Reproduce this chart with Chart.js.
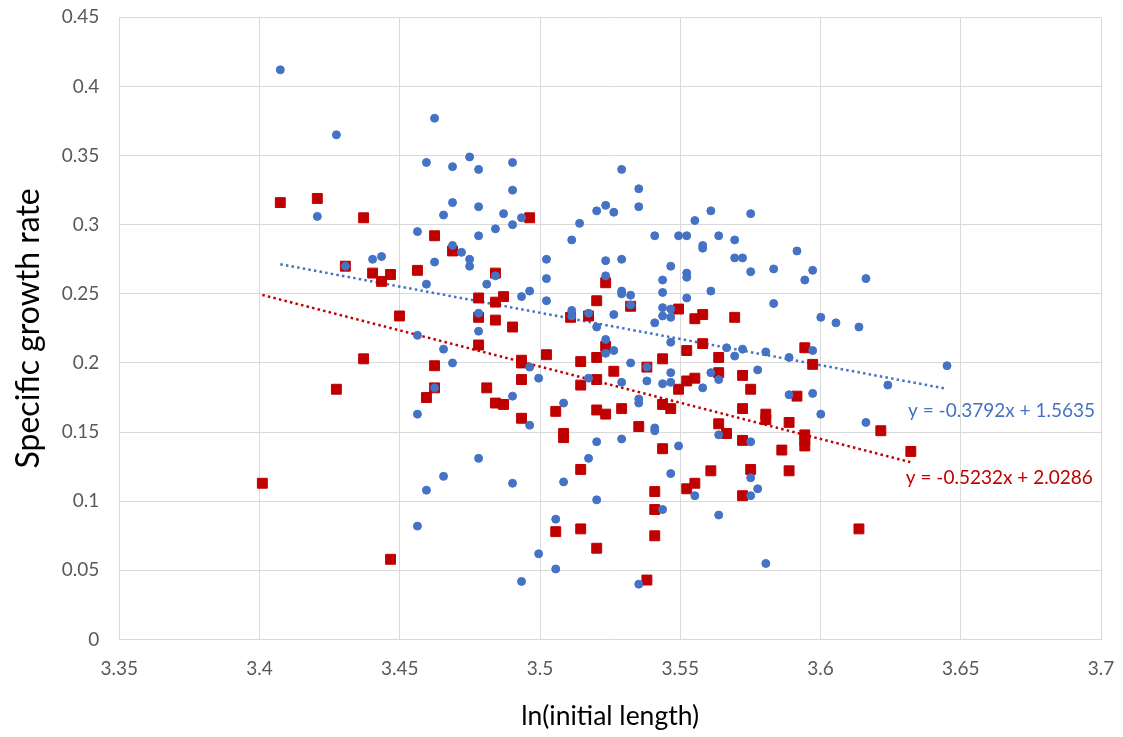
<!DOCTYPE html>
<html>
<head>
<meta charset="utf-8">
<script src="https://cdn.jsdelivr.net/npm/chart.js@4"></script>
<style>
  body { margin: 0; background: #fff; }
</style>
</head>
<body>
<canvas id="growth_chart" width="1123" height="737"></canvas>
<script>
  // series 1 (blue circles)
  const blueX = [
    3.4074, 3.4274, 3.4206, 3.4306, 3.4403, 3.4435, 3.4563, 3.4595, 3.4624, 3.4595,
    3.4563, 3.4656, 3.4688, 3.4688, 3.4688, 3.4720, 3.4749, 3.4781, 3.4781, 3.4749,
    3.4749, 3.4810, 3.4656, 3.4688, 3.4781, 3.4781, 3.4781, 3.4563, 3.4624, 3.4563,
    3.4595, 3.4656, 3.4781, 3.4624, 3.4902, 3.4902, 3.4870, 3.4841, 3.4902, 3.4934,
    3.5023, 3.5023, 3.5023, 3.5113, 3.5141, 3.5202, 3.5234, 3.5263, 3.5291, 3.5352,
    3.5352, 3.5234, 3.5234, 3.5291, 3.5291, 3.5291, 3.5323, 3.5409, 3.5494, 3.5523,
    3.5466, 3.5437, 3.5437, 3.5523, 3.5523, 3.5523, 3.5552, 3.4841, 3.4934, 3.4963,
    3.5113, 3.5113, 3.5173, 3.5263, 3.5202, 3.5323, 3.5409, 3.5437, 3.5466, 3.5437,
    3.5466, 3.5466, 3.5234, 3.5234, 3.5263, 3.5323, 3.5381, 3.5381, 3.5291, 3.5173,
    3.4963, 3.4995, 3.4902, 3.4963, 3.5084, 3.5352, 3.5352, 3.5437, 3.5466, 3.5466,
    3.5409, 3.5409, 3.5202, 3.5291, 3.5173, 3.5494, 3.5466, 3.4902, 3.5084, 3.5202,
    3.5056, 3.4995, 3.5056, 3.4934, 3.5352, 3.5437, 3.5552, 3.5609, 3.5751, 3.5637,
    3.5580, 3.5580, 3.5694, 3.5916, 3.5694, 3.5722, 3.5751, 3.5833, 3.5972, 3.5944,
    3.6162, 3.5609, 3.5833, 3.6001, 3.6055, 3.6137, 3.5665, 3.5722, 3.5805, 3.5972,
    3.5694, 3.5888, 3.6451, 3.6240, 3.5609, 3.5637, 3.5580, 3.5776, 3.5888, 3.5972,
    3.6001, 3.6162, 3.5637, 3.5751, 3.5751, 3.5776, 3.5751, 3.5637, 3.5805
  ];
  const blueY = [
    0.412, 0.365, 0.306, 0.270, 0.275, 0.277, 0.295, 0.345, 0.377, 0.257,
    0.220, 0.307, 0.342, 0.316, 0.285, 0.280, 0.349, 0.340, 0.313, 0.275,
    0.270, 0.257, 0.210, 0.200, 0.292, 0.236, 0.223, 0.163, 0.182, 0.082,
    0.108, 0.118, 0.131, 0.273, 0.345, 0.325, 0.308, 0.297, 0.300, 0.305,
    0.275, 0.261, 0.245, 0.289, 0.301, 0.310, 0.314, 0.309, 0.340, 0.326,
    0.313, 0.274, 0.263, 0.275, 0.252, 0.250, 0.249, 0.292, 0.292, 0.292,
    0.270, 0.260, 0.251, 0.265, 0.262, 0.247, 0.303, 0.263, 0.248, 0.252,
    0.238, 0.234, 0.236, 0.235, 0.226, 0.242, 0.229, 0.240, 0.239, 0.234,
    0.233, 0.215, 0.217, 0.207, 0.209, 0.200, 0.197, 0.187, 0.186, 0.189,
    0.197, 0.189, 0.176, 0.155, 0.171, 0.174, 0.171, 0.185, 0.193, 0.186,
    0.153, 0.151, 0.143, 0.145, 0.131, 0.140, 0.120, 0.113, 0.114, 0.101,
    0.087, 0.062, 0.051, 0.042, 0.040, 0.094, 0.104, 0.310, 0.308, 0.292,
    0.285, 0.283, 0.289, 0.281, 0.276, 0.276, 0.266, 0.268, 0.267, 0.260,
    0.261, 0.252, 0.243, 0.233, 0.229, 0.226, 0.211, 0.210, 0.208, 0.209,
    0.205, 0.204, 0.198, 0.184, 0.193, 0.188, 0.182, 0.195, 0.177, 0.178,
    0.163, 0.157, 0.148, 0.143, 0.117, 0.109, 0.104, 0.090, 0.055
  ];

  // series 2 (red squares)
  const redX = [
    3.4074, 3.4206, 3.4371, 3.4624, 3.4306, 3.4403, 3.4435, 3.4467, 3.4563, 3.4688,
    3.4499, 3.4781, 3.4781, 3.4781, 3.4810, 3.4371, 3.4274, 3.4624, 3.4624, 3.4595,
    3.4010, 3.4467, 3.4963, 3.4841, 3.4870, 3.4841, 3.5202, 3.5234, 3.5323, 3.5494,
    3.4841, 3.4902, 3.4934, 3.4934, 3.5023, 3.4934, 3.4841, 3.4870, 3.4934, 3.5056,
    3.5084, 3.5084, 3.5145, 3.5202, 3.5145, 3.5202, 3.5202, 3.5234, 3.5263, 3.5291,
    3.5381, 3.5437, 3.5352, 3.5437, 3.5466, 3.5494, 3.5523, 3.5552, 3.5523, 3.5552,
    3.5234, 3.5145, 3.5437, 3.5109, 3.5173, 3.5056, 3.5145, 3.5202, 3.5409, 3.5409,
    3.5409, 3.5381, 3.5523, 3.5552, 3.5580, 3.5694, 3.5580, 3.5944, 3.5637, 3.5637,
    3.5722, 3.5751, 3.5972, 3.5916, 3.5722, 3.5805, 3.5805, 3.5888, 3.5637, 3.5665,
    3.5722, 3.5862, 3.5944, 3.5944, 3.5944, 3.6215, 3.6322, 3.5609, 3.5751, 3.5888,
    3.5722, 3.6137
  ];
  const redY = [
    0.316, 0.319, 0.305, 0.292, 0.270, 0.265, 0.259, 0.264, 0.267, 0.281,
    0.234, 0.247, 0.233, 0.213, 0.182, 0.203, 0.181, 0.198, 0.182, 0.175,
    0.113, 0.058, 0.305, 0.265, 0.248, 0.244, 0.245, 0.258, 0.241, 0.239,
    0.231, 0.226, 0.202, 0.200, 0.206, 0.188, 0.171, 0.170, 0.160, 0.165,
    0.149, 0.146, 0.201, 0.204, 0.184, 0.188, 0.166, 0.163, 0.194, 0.167,
    0.197, 0.203, 0.154, 0.170, 0.167, 0.181, 0.187, 0.189, 0.209, 0.232,
    0.212, 0.123, 0.138, 0.233, 0.234, 0.078, 0.080, 0.066, 0.107, 0.094,
    0.075, 0.043, 0.109, 0.113, 0.235, 0.233, 0.214, 0.211, 0.204, 0.193,
    0.191, 0.181, 0.199, 0.176, 0.167, 0.163, 0.159, 0.157, 0.156, 0.149,
    0.144, 0.137, 0.148, 0.144, 0.140, 0.151, 0.136, 0.122, 0.123, 0.122,
    0.104, 0.080
  ];

  // trendline end points as drawn, and their labels
  const blueTrendX = [3.4074, 3.6451];
  const blueTrendY = [0.2714, 0.1813];
  const redTrendX = [3.4010, 3.6320];
  const redTrendY = [0.2492, 0.1283];
  const blueEquation = 'y = -0.3792x + 1.5635';
  const redEquation = 'y = -0.5232x + 2.0286';

  const xTicks = [3.35, 3.4, 3.45, 3.5, 3.55, 3.6, 3.65, 3.7];
  const yTicks = [0, 0.05, 0.1, 0.15, 0.2, 0.25, 0.3, 0.35, 0.4, 0.45];

  const BLUE = '#4472C4';
  const RED = '#C00000';
  const GRID = '#D9D9D9';
  const FONT = 'Lato';

  const toPoints = (xs, ys) => xs.map((x, i) => ({ x: x, y: ys[i] }));

  // draws the trendline equations next to the line ends
  const equationLabels = {
    id: 'equationLabels',
    afterDatasetsDraw(chart) {
      const { ctx, scales: { x, y } } = chart;
      ctx.save();
      ctx.font = '19px ' + FONT;
      ctx.textAlign = 'left';
      ctx.textBaseline = 'middle';
      ctx.fillStyle = BLUE;
      ctx.fillText(blueEquation, x.getPixelForValue(3.6312), y.getPixelForValue(0.1655));
      ctx.fillStyle = RED;
      ctx.fillText(redEquation, x.getPixelForValue(3.6304), y.getPixelForValue(0.1171));
      ctx.restore();
    }
  };

  new Chart(
    document.getElementById('growth_chart'),
    {
      type: 'scatter',
      data: {
        datasets: [
          {
            label: 'blue',
            data: toPoints(blueX, blueY),
            pointStyle: 'circle',
            pointRadius: 4,
            backgroundColor: BLUE,
            borderColor: BLUE,
            borderWidth: 1
          },
          {
            label: 'red',
            data: toPoints(redX, redY),
            pointStyle: 'rect',
            pointRadius: 7,
            backgroundColor: RED,
            borderColor: RED,
            borderWidth: 1
          },
          {
            type: 'line',
            label: 'blue trend',
            data: toPoints(blueTrendX, blueTrendY),
            borderColor: BLUE,
            borderWidth: 2.5,
            borderDash: [2.5, 3.2],
            pointRadius: 0,
            fill: false
          },
          {
            type: 'line',
            label: 'red trend',
            data: toPoints(redTrendX, redTrendY),
            borderColor: RED,
            borderWidth: 2.5,
            borderDash: [2.5, 3.2],
            pointRadius: 0,
            fill: false
          }
        ]
      },
      options: {
        responsive: false,
        animation: false,
        devicePixelRatio: 1,
        layout: { padding: { top: 17.3, right: 22, left: 0, bottom: 0 } },
        plugins: {
          legend: { display: false },
          tooltip: { enabled: false }
        },
        scales: {
          x: {
            type: 'linear',
            min: 3.35,
            max: 3.7,
            afterBuildTicks: scale => { scale.ticks = xTicks.map(v => ({ value: v })); },
            afterFit: scale => {
              scale.height = 97.5;
              scale.paddingLeft = 0;
              scale.paddingRight = 0;
            },
            grid: { color: GRID, drawTicks: false },
            border: { color: GRID },
            ticks: {
              padding: 18,
              color: '#595959',
              font: { family: FONT, size: 19 },
              callback: v => String(+v.toFixed(2))
            },
            title: {
              display: true,
              text: 'ln(initial length)',
              color: '#000',
              font: { family: FONT, size: 26.5 },
              padding: { bottom: 5 }
            }
          },
          y: {
            min: 0,
            max: 0.45,
            afterBuildTicks: scale => { scale.ticks = yTicks.map(v => ({ value: v })); },
            afterFit: scale => {
              scale.width = 119.3;
              scale.paddingTop = 0;
              scale.paddingBottom = 0;
            },
            grid: { color: GRID, drawTicks: false },
            border: { color: GRID },
            ticks: {
              padding: 20,
              color: '#595959',
              font: { family: FONT, size: 19 },
              callback: v => String(+v.toFixed(2))
            },
            title: {
              display: true,
              text: 'Specific growth rate',
              color: '#000',
              font: { family: FONT, size: 32 },
              padding: { top: 9 }
            }
          }
        }
      },
      plugins: [equationLabels]
    }
  );
</script>
</body>
</html>
